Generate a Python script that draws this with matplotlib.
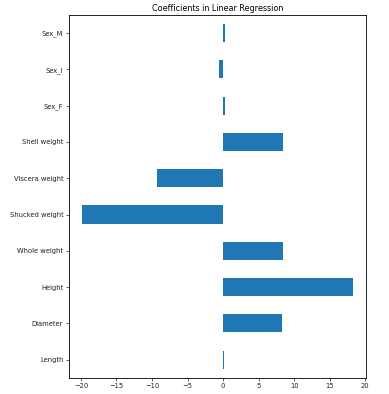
import matplotlib
matplotlib.use("Agg")
import matplotlib.pyplot as plt
import numpy as np

features = ["Length", "Diameter", "Height", "Whole weight", "Shucked weight",
            "Viscera weight", "Shell weight", "Sex_F", "Sex_I", "Sex_M"]
coefs = [0.1, 8.3, 18.2, 8.4, -19.8, -9.25, 8.4, 0.2, -0.55, 0.3]

fig = plt.figure(figsize=(3.89, 3.94), dpi=100)
ax = fig.add_axes([0.177, 0.041, 0.764, 0.921])
y = np.arange(len(features))
ax.barh(y, coefs, height=0.5, color="#1f77b4")
ax.set_yticks(y)
ax.set_yticklabels(features)
ax.set_ylim(-0.5, len(features) - 0.5)
ax.set_xticks([-20, -15, -10, -5, 0, 5, 10, 15, 20])
ax.tick_params(labelsize=4.9, length=2, width=0.5, pad=2, colors="#222222")
for s in ax.spines.values():
    s.set_linewidth(0.6)
ax.set_title("Coefficients in Linear Regression", fontsize=5.8, pad=3)
fig.savefig("out.png", dpi=100)
